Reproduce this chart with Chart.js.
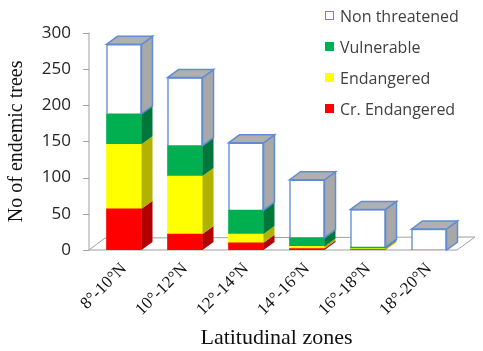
<!DOCTYPE html>
<html>
<head>
<meta charset="utf-8">
<script src="https://cdn.jsdelivr.net/npm/chart.js@4.4.0/dist/chart.umd.min.js"></script>
<style>
  html, body { margin: 0; padding: 0; background: #fff; }
  #wrap { position: relative; width: 483px; height: 351px; }
  #leyenda { position: absolute; left: 325px; top: 0; font-family: "Open Sans", sans-serif; font-size: 16px; color: #404040; }
  .item { height: 31px; display: flex; align-items: center; white-space: nowrap; }
  .caja { width: 9px; height: 9px; margin-right: 6px; box-sizing: border-box; }
</style>
</head>
<body>
<div id="wrap">
  <canvas id="grafica" width="483" height="351"></canvas>
  <div id="leyenda"></div>
</div>
<script>
// DATOS
const zonas = ["8°-10°N", "10°-12°N", "12°-14°N", "14°-16°N", "16°-18°N", "18°-20°N"];
const crEndangered = [57, 22, 10, 2, 0.5, 0];
const endangered = [89, 80, 12, 3, 1.5, 0];
const vulnerable = [42, 42, 33, 12, 2, 0];
const nonThreatened = [96, 94, 93, 80, 52, 29];
const yTicks = [0, 50, 100, 150, 200, 250, 300];

// frente, lado
const series = [
  { label: "Cr. Endangered", data: crEndangered, color: "#FF0000", side: "#B00000" },
  { label: "Endangered", data: endangered, color: "#FFFF00", side: "#B2B200" },
  { label: "Vulnerable", data: vulnerable, color: "#00B050", side: "#00773A" },
  { label: "Non threatened", data: nonThreatened, color: "#FFFFFF", side: "#A8A8A8" }
];
const azul = "#5F8DD3";
const GRIS = "#A0A0A0";

// cubos 3D: piso, eje y, caras laterales
const cubos = {
  id: "cubos",
  beforeDatasetsDraw(chart) {
    const ctx = chart.ctx, area = chart.chartArea;
    const x0 = area.left - 4.5, x1 = area.right - 2.5, y0 = area.bottom;
    ctx.save();
    ctx.lineWidth = 1;
    ctx.strokeStyle = GRIS;
    ctx.fillStyle = "#fff";
    ctx.beginPath();
    ctx.moveTo(x0, y0);
    ctx.lineTo(x1, y0);
    ctx.lineTo(x1 + 18, y0 - 13);
    ctx.lineTo(x0 + 16, y0 - 12);
    ctx.closePath();
    ctx.fill();
    ctx.stroke();

    ctx.beginPath();
    ctx.moveTo(x0, area.top);
    ctx.lineTo(x0, y0);
    yTicks.forEach(v => {
      const py = Math.round(chart.scales.y.getPixelForValue(v)) + 0.5;
      ctx.moveTo(x0 - 6, py);
      ctx.lineTo(x0, py);
    });
    ctx.stroke();
    ctx.restore();
  },
  afterDatasetsDraw(chart) {
    const ctx = chart.ctx;
    const dx = 11, dy = 8;
    ctx.save();
    chart.data.datasets.forEach((ds, i) => {
      const meta = chart.getDatasetMeta(i);
      const s = series[i];
      meta.data.forEach(bar => {
        const p = bar.getProps(["x", "y", "base", "width"], true);
        if (Math.abs(p.base - p.y) < 0.1) return;
        const l = p.x - p.width / 2, r = p.x + p.width / 2;
        ctx.beginPath();
        ctx.moveTo(r, p.y);
        ctx.lineTo(r + dx, p.y - dy);
        ctx.lineTo(r + dx, p.base - dy);
        ctx.lineTo(r, p.base);
        ctx.closePath();
        ctx.fillStyle = s.side;
        ctx.fill();
        if (s.label === "Non threatened") {
          ctx.strokeStyle = azul;
          ctx.lineWidth = 1.5;
          ctx.stroke();
          ctx.beginPath();
          ctx.moveTo(l, p.y);
          ctx.lineTo(l + dx, p.y - dy);
          ctx.lineTo(r + dx, p.y - dy);
          ctx.lineTo(r, p.y);
          ctx.closePath();
          ctx.fillStyle = "#B0B0B0";
          ctx.fill();
          ctx.stroke();
        }
      });
    });
    ctx.restore();
  }
};

new Chart(document.getElementById("grafica"), {
  type: "bar",
  data: {
    labels: zonas,
    datasets: series.map(s => ({
      label: s.label,
      data: s.data,
      backgroundColor: s.color,
      borderColor: s.label === "Non threatened" ? azul : s.color,
      borderWidth: s.label === "Non threatened" ? 1.5 : 0,
      barThickness: 35
    }))
  },
  options: {
    responsive: false,
    animation: false,
    layout: { padding: { left: 0, right: 23.5, top: 10, bottom: 0 } },
    plugins: {
      legend: { display: false },
      tooltip: { enabled: false }
    },
    scales: {
      x: {
        stacked: true,
        grid: { display: false, drawTicks: false },
        border: { display: false },
        ticks: {
          minRotation: 45,
          maxRotation: 45,
          padding: 9,
          color: "#111",
          font: { family: "Liberation Serif", size: 17, weight: "normal" }
        },
        title: {
          display: true,
          text: "Latitudinal zones",
          color: "#111",
          padding: { top: 0, bottom: 0 },
          font: { family: "Liberation Serif", size: 22, weight: "normal" }
        },
        afterFit: scale => { scale.height = 101; }
      },
      y: {
        stacked: true,
        min: 0,
        max: 300,
        grid: { display: false, drawTicks: false },
        border: { display: false },
        afterBuildTicks: scale => { scale.ticks = yTicks.map(v => ({ value: v })); },
        ticks: {
          padding: 22.5,
          color: "#262626",
          font: { family: "Open Sans", size: 17 }
        },
        title: {
          display: true,
          text: "No of endemic trees",
          color: "#111",
          padding: { top: 5, bottom: 0 },
          font: { family: "Liberation Serif", size: 20, weight: "normal" }
        },
        afterFit: scale => { scale.width = 93.5; }
      }
    }
  },
  plugins: [cubos]
});

// LEYENDA
const leyenda = document.getElementById("leyenda");
series.slice().reverse().forEach(s => {
  const item = document.createElement("div");
  item.className = "item";
  const caja = document.createElement("span");
  caja.className = "caja";
  caja.style.background = s.color;
  if (s.label === "Non threatened") caja.style.border = "1px solid " + azul;
  const txt = document.createElement("span");
  txt.textContent = s.label;
  item.appendChild(caja);
  item.appendChild(txt);
  leyenda.appendChild(item);
});
</script>
</body>
</html>
